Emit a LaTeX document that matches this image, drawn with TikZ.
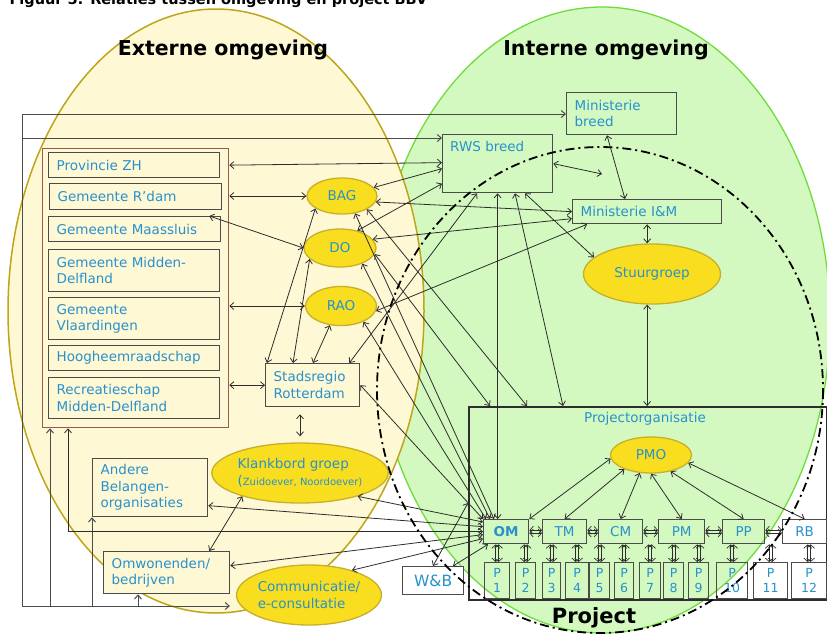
\documentclass[tikz,border=0pt]{standalone}
\usepackage{fontspec}
\setmainfont{DejaVu Sans}
\usetikzlibrary{shapes.geometric,arrows.meta,calc,positioning}

\definecolor{txtblue}{RGB}{40,145,205}
\definecolor{extfill}{RGB}{255,248,212}
\definecolor{extedge}{RGB}{190,165,25}
\definecolor{intfill}{RGB}{212,249,192}
\definecolor{intedge}{RGB}{110,220,60}
\definecolor{blobfill}{RGB}{248,222,30}
\definecolor{blobedge}{RGB}{200,175,40}
\definecolor{brownedge}{RGB}{150,90,80}
\definecolor{boxedge}{RGB}{75,75,75}
\definecolor{linegray}{RGB}{45,45,45}

\newcommand{\bodyfont}{\fontsize{13.5}{16.5}\selectfont}

\tikzset{
  orgbox/.style={draw=boxedge, line width=1.3pt, anchor=north west, inner xsep=8pt, inner ysep=0pt, align=left, text=txtblue, font=\bodyfont},
  blob/.style={ellipse, draw=blobedge, fill=blobfill, line width=1.3pt, inner sep=0pt, text=txtblue, font=\bodyfont, align=left},
  teambox/.style={draw=boxedge, line width=1.3pt, anchor=north west, minimum width=44pt, minimum height=24pt, inner sep=0pt, text=txtblue, font=\bodyfont},
  pbox/.style={draw=boxedge, line width=1.3pt, anchor=north west, minimum height=36pt, inner sep=0pt, align=center, text=txtblue, font=\fontsize{12.5}{15}\selectfont},
  lnk/.style={<->, draw=linegray, line width=0.8pt},
  bus/.style={->, draw=boxedge, line width=1pt},
  dblh/.style={<->, draw=linegray, line width=0.7pt, >={Straight Barb[length=3.5pt,width=8pt]}, transform canvas={yshift=#1}},
  dblv/.style={<->, draw=linegray, line width=0.7pt, >={Straight Barb[length=3.5pt,width=8pt]}, transform canvas={xshift=#1}},
  heading/.style={font=\bfseries\fontsize{20.5}{24}\selectfont}
}

\begin{document}
\begin{tikzpicture}[x=1pt, y=-1pt, >={Straight Barb[length=4pt,width=7pt]}]
\useasboundingbox (0,0) rectangle (827,638);

% omgevingen
\draw[fill=intfill, draw=intedge, line width=1.3pt] (602,320) ellipse [x radius=228, y radius=313];
\draw[fill=extfill, draw=extedge, line width=1.5pt] (216,311) ellipse [x radius=208, y radius=302];

\node[anchor=base west, font=\bfseries\fontsize{14.5}{17}\selectfont] (titel) at (6,4) {Figuur 5: Relaties tussen omgeving en project BBV};
\node[heading] (ext) at (223,50) {Externe omgeving};
\node[heading] (int) at (606,50) {Interne omgeving};

% externe partijen
\node[draw=brownedge, line width=1.3pt, anchor=north west, minimum width=186pt, minimum height=279pt, inner sep=0pt] (gov) at (42,148) {};
\node[orgbox, text width=155pt, minimum height=25pt] (prov) at (48,152) {Provincie ZH};
\node[orgbox, text width=156pt, minimum height=26pt] (rdam) at (49,183) {Gemeente R’dam};
\node[orgbox, text width=156pt, minimum height=25pt] (maas) at (48,216) {Gemeente Maassluis};
\node[orgbox, text width=155pt, minimum height=42pt] (midd) at (48,249) {Gemeente Midden-\\Delfland};
\node[orgbox, text width=155pt, minimum height=42pt] (vlaa) at (48,297) {Gemeente\\Vlaardingen};
\node[orgbox, text width=155pt, minimum height=25pt] (hhr) at (48,345) {Hoogheemraadschap};
\node[orgbox, text width=155pt, minimum height=41pt] (recr) at (48,377) {Recreatieschap\\Midden-Delfland};

\node[blob, minimum width=70pt, minimum height=36pt] (bag) at (342,196) {BAG};
\node[blob, minimum width=72pt, minimum height=38pt] (do) at (340,248) {DO};
\node[blob, minimum width=71pt, minimum height=39pt] (rao) at (341,306) {RAO};
\node[orgbox, text width=78pt, minimum height=43pt] (stad) at (265,363) {Stadsregio\\Rotterdam};
\node[blob, minimum width=154pt, minimum height=60pt] (klank) at (300,473) {Klankbord groep\\({\fontsize{10}{12}\selectfont Zuidoever, Noordoever)}};
\node[orgbox, text width=99pt, minimum height=58pt] (andere) at (92,458) {Andere\\Belangen-\\organisaties};
\node[orgbox, text width=110pt, minimum height=42pt, fill=extfill] (omw) at (103,551) {Omwonenden/\\bedrijven};
\node[blob, minimum width=126pt, minimum height=60pt] (comm) at (309,595) {Communicatie/\\e-consultatie};

% interne partijen
\node[orgbox, text width=94pt, minimum height=42pt] (mb) at (566,92) {Ministerie\\breed};
\node[draw=boxedge, line width=1.3pt, anchor=north west, minimum width=110pt, minimum height=58pt, inner sep=0pt] (rws) at (442,134) {};
\node[anchor=north west, text=txtblue, font=\bodyfont, inner sep=0pt] (rwstxt) at ([shift={(8pt,-7pt)}]rws.north west) {RWS breed};
\node[orgbox, text width=133pt, minimum height=24pt] (im) at (572,199) {Ministerie I\&M};
\node[blob, minimum width=137pt, minimum height=60pt] (stuur) at (652,274) {Stuurgroep};
\coordinate (rwspunt) at (602,174);

% project
\node[draw=linegray, line width=1.5pt, anchor=north west, minimum width=358pt, minimum height=193pt, inner sep=0pt] (proj) at (468,406) {};
\node[text=txtblue, font=\bodyfont] (porg) at (645,419) {Projectorganisatie};
\node[blob, minimum width=81pt, minimum height=36pt] (pmo) at (651,455) {PMO};
\node[teambox, minimum width=45pt, font=\bodyfont\bfseries] (om) at (483,519) {OM};
\node[teambox] (tm) at (542,519) {TM};
\node[teambox] (cm) at (598,519) {CM};
\node[teambox, minimum width=46pt] (pm) at (658,519) {PM};
\node[teambox, minimum width=42pt] (pp) at (722,519) {PP};
\node[teambox, fill=white] (rb) at (782,519) {RB};
\foreach \n/\px/\pw in {1/484/25, 2/515/20, 3/542/18, 4/565/23, 5/589/20, 6/614/19, 7/639/21, 8/663/20, 9/688/20, 10/716/31, 11/753/34, 12/791/35}
  \node[pbox, minimum width=\pw*1pt] (p\n) at (\px,562) {P\\\n};
\node[draw=boxedge, line width=1.3pt, fill=white, anchor=north west, minimum width=61pt, minimum height=28pt, inner sep=0pt, text=txtblue, font=\fontsize{15.5}{18}\selectfont] (wb) at (402,566) {W\&B};
\node[font=\bfseries\fontsize{21}{24}\selectfont] (projtxt) at (594,618) {Project};

% verzamellijnen links
\coordinate (busbl) at (22,606);
\coordinate (bustl) at (22,114);
\coordinate (busrws) at (22,138);
\coordinate (commw) at ([xshift=-6pt]comm.west);
\coordinate (omwb) at ([xshift=35pt]omw.south west);
\coordinate (govb1) at ([xshift=8pt]gov.south west);
\coordinate (govb2) at ([xshift=26pt]gov.south west);
\draw[bus] (busbl) -- (bustl) -- (bustl -| mb.west);
\draw[bus] (busrws) -- (busrws -| rws.west);
\draw[bus] (busbl) -- (busbl -| commw);
\draw[bus] (busbl -| andere.south west) -- (andere.south west);
\draw[bus] (busbl -| omwb) -- (omwb);
\draw[bus] (busbl -| govb1) -- (govb1);
\draw[lnk] (om.west) -| (govb2);

% relaties extern
\draw[lnk] (gov.east |- prov.east) -- ([yshift=1pt]rws.west);
\draw[lnk] (gov.east |- bag.west) -- (bag.west);
\draw[lnk] ([xshift=-12pt]maas.north east) -- (do.west);
\draw[lnk] (gov.east |- rao.west) -- (rao.west);
\draw[lnk] (gov.east |- stad.west) -- (stad.west);
\draw[lnk] ([xshift=2pt]stad.north west) -- (bag.205);
\draw[lnk] ([xshift=28pt]stad.north west) -- (do.200);
\draw[lnk] ([xshift=48pt]stad.north west) -- (rao.-120);
\draw[lnk, shorten <=7pt, shorten >=6pt] (stad.south -| klank.north) -- (klank.north);
\draw[lnk] (klank.202) -- ([xshift=-21pt]omw.north east);

% relaties intern
\draw[lnk] (bag.15) -- ([yshift=-5pt]rws.west);
\draw[lnk] (do.45) -- ([yshift=-20pt]rws.west);
\draw[lnk] (bag.-10) -- (im.west);
\draw[lnk] (do.15) -- ([yshift=-7pt]im.west);
\draw[lnk] (rao.-8) -- ([xshift=15pt]im.south west);
\draw[lnk] ([xshift=-11pt]stad.north east) -- ([xshift=35pt]rws.south west);
\draw[lnk] (rws.east) -- (rwspunt);
\draw[lnk] ([xshift=41pt]mb.south west) -- ([xshift=53pt]im.north west);
\draw[lnk] (im.south) -- (im.south |- stuur.north);
\draw[lnk] (im.south |- stuur.south) -- (im.south |- proj.north);
\draw[lnk] ([xshift=83pt]rws.south west) -- (stuur.164);
\draw[lnk] ([xshift=73pt]rws.south west) -- ([xshift=95pt]proj.north west);
\draw[lnk] (rws.south) -- (rws.south |- om.north);
\draw[lnk] (bag.-28) -- ([xshift=59pt]proj.north west);
\draw[lnk] (do.-10) -- ([xshift=22pt]proj.north west);

% relaties met OM
\draw[lnk] (stad.east) -- (om.north west);
\draw[lnk] (rao.-35) -- ([xshift=3pt]om.north west);
\draw[lnk] (do.-35) -- ([xshift=7pt]om.north west);
\draw[lnk] (bag.-53) -- ([xshift=11pt]om.north west);
\draw[lnk] (klank.-22) -- ([yshift=-3pt]om.north west);
\draw[lnk] ([yshift=-18pt]andere.east) -- ([yshift=5pt]om.west);
\draw[lnk] ([yshift=7pt]omw.east) -- ([yshift=-3pt]om.west);
\draw[lnk] (comm.30) -- ([yshift=-7pt]om.west);
\draw[lnk] ([xshift=31pt]wb.north west) -- ([yshift=-97pt]proj.north west);
\draw[lnk] ([xshift=51pt]wb.north west) -- ([xshift=5pt]om.south west);

% projectorganisatie
\draw[lnk] (pmo.185) -- (om.north east);
\draw[lnk] (pmo.208) -- (tm.north);
\draw[lnk] (pmo.-122) -- (cm.north);
\draw[lnk] (pmo.south) -- (pm.north);
\draw[lnk] (pmo.-40) -- (pp.north);
\draw[lnk] (pmo.-12) -- (rb.north);
\foreach \a/\b in {om/tm, tm/cm, cm/pm, pm/pp, pp/rb} {
  \draw[dblh=1.4pt] (\a.east) -- (\b.west);
  \draw[dblh=-1.4pt] (\a.east) -- (\b.west);
}
\foreach \n in {1,...,12} {
  \draw[dblv=1.4pt] (p\n.north |- om.south) -- (p\n.north);
  \draw[dblv=-1.4pt] (p\n.north |- om.south) -- (p\n.north);
}

% grens project
\draw[black, line width=1.8pt, dash pattern=on 9pt off 4pt on 2pt off 4pt] (600,390) ellipse [x radius=223, y radius=243];
\end{tikzpicture}
\end{document}
